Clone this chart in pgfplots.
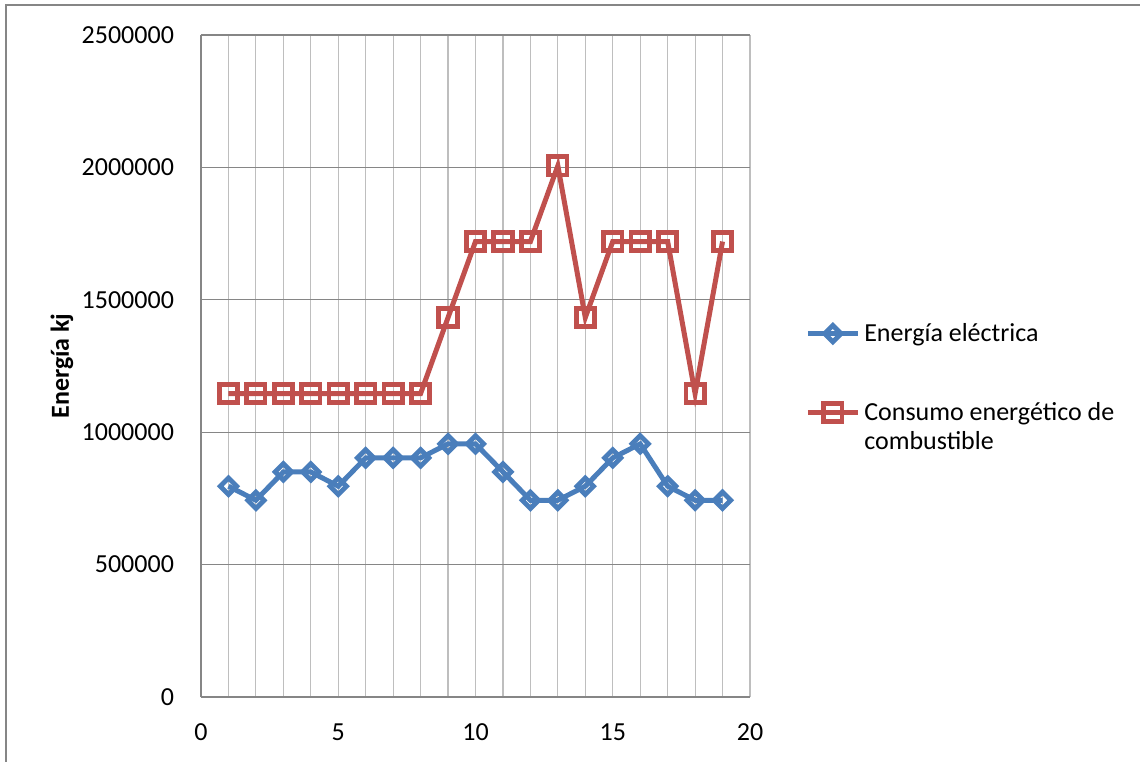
\documentclass[border=0pt]{standalone}
\usepackage{pgfplots}
\pgfplotsset{compat=1.18}
\usepackage{fontspec}
\setmainfont{Carlito}
\definecolor{serieA}{RGB}{74,126,187}
\definecolor{serieB}{RGB}{192,80,77}
\definecolor{gridH}{RGB}{134,134,134}
\definecolor{gridV}{RGB}{190,190,190}

\pgfplotstableread{
x  y
1  796000
2  743000
3  850000
4  850000
5  796000
6  903000
7  903000
8  903000
9  956000
10 956000
11 850000
12 743000
13 743000
14 796000
15 903000
16 956000
17 796000
18 743000
19 743000
}\electrica
\pgfplotstableread{
x  y
1  1146000
2  1146000
3  1146000
4  1146000
5  1146000
6  1146000
7  1146000
8  1146000
9  1433000
10 1720000
11 1720000
12 1720000
13 2006000
14 1433000
15 1720000
16 1720000
17 1720000
18 1146000
19 1720000
}\combustible

\begin{document}
\fontsize{13}{15.6}\selectfont
\begin{tikzpicture}
\useasboundingbox (-100.5pt,-32pt) rectangle (469.5pt,348.5pt);
\draw[gridH, line width=0.8pt] (-97.5pt,-40pt) -- (-97.5pt,346pt) -- (480pt,346pt);
\begin{axis}[
    at={(0,0)}, anchor=south west,
    scale only axis,
    width=274.5pt, height=331pt,
    xmin=0, xmax=20,
    ymin=0, ymax=2500000,
    xtick={0,5,10,15,20},
    minor x tick num=4,
    ytick={0,500000,1000000,1500000,2000000,2500000},
    scaled y ticks=false,
    /pgf/number format/assume math mode=true,
    yticklabel style={/pgf/number format/fixed,/pgf/number format/1000 sep={}, xshift=-9pt},
    xticklabel style={yshift=-9pt},
    major tick length=0pt, minor tick length=0pt,
    xmajorgrids, xminorgrids, ymajorgrids,
    major x grid style={gridV, line width=0.6pt},
    minor x grid style={gridV, line width=0.6pt},
    major y grid style={gridH, line width=0.6pt},
    axis x line*=bottom, axis y line*=left,
    axis line style={gridH, line width=0.8pt, -},
    ylabel={\fontsize{13}{15}\selectfont\bfseries Energía kj},
    ylabel style={at={(axis description cs:-0.2532,0.5)}, anchor=center, rotate=0},
    legend style={draw=none, fill=none, at={(1.1,0.571)}, anchor=north west,
        cells={anchor=base west}, row sep=22.5pt, inner sep=0pt},
    legend image code/.code={
        \draw[mark repeat=2, mark phase=2, yshift=0.3em] plot coordinates {(0pt,0pt)(12.5pt,0pt)(25pt,0pt)};},
]
\addplot[serieA, line width=2.5pt, mark=square, mark size=2.9pt,
    mark options={rotate=45, fill=white, line width=2.4pt, solid}]
    table[x=x, y=y] {\electrica};
\addlegendentry{Energía eléctrica}
\addplot[serieB, line width=2.5pt, mark=square, mark size=4.6pt,
    mark options={fill=white, line width=2.4pt, solid}]
    table[x=x, y=y] {\combustible};
\addlegendentry{\begin{tabular}[t]{@{}l@{}}Consumo energético de\\[-1pt]combustible\end{tabular}}
\end{axis}
\end{tikzpicture}
\end{document}
